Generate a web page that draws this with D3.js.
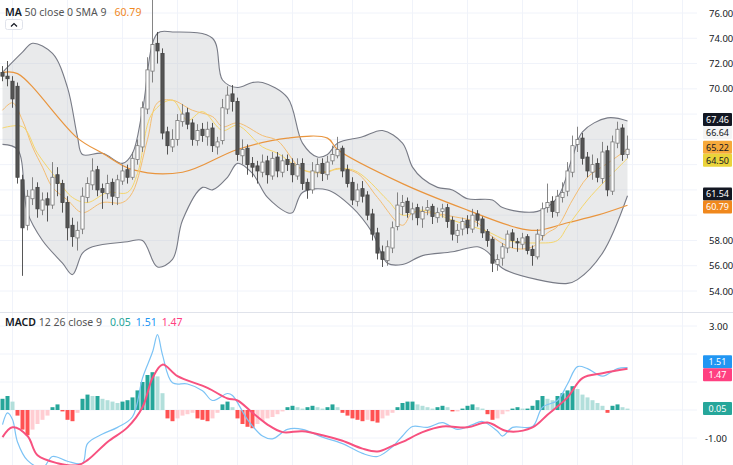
<!DOCTYPE html>
<html><head><meta charset="utf-8">
<script src="https://cdn.jsdelivr.net/npm/d3@7/dist/d3.min.js"></script>
<style>body{margin:0;background:#fff;font-family:"Noto Sans",Roboto,sans-serif}</style>
</head><body><svg id="c" width="733" height="465"></svg>
<script>
const opens=[71.3,71.0,70.6,70.2,62.8,59.2,61.3,62.2,60.4,61.3,60.8,63.2,62.5,61.0,59.2,58.2,58.9,61.4,62.4,63.6,62.1,61.7,62.6,61.4,62.7,63.6,63.0,64.4,65.4,68.4,71.4,73.6,72.8,66.6,65.4,66.0,67.4,68.1,67.3,65.9,66.8,66.2,66.9,65.4,65.9,68.4,69.6,69.0,64.7,65.3,64.1,63.9,63.4,64.3,63.1,64.6,63.4,64.4,64.1,63.1,64.1,62.6,62.0,63.4,64.1,63.2,64.3,64.7,65.3,63.6,62.6,61.1,62.1,61.6,60.1,58.6,57.1,56.4,57.4,59.1,60.7,61.1,60.1,60.6,59.7,60.4,60.7,59.8,60.3,60.6,59.6,58.4,58.9,59.6,58.9,60.1,59.7,58.7,58.1,56.1,56.6,57.4,58.6,57.9,57.7,58.3,57.3,56.7,58.4,60.6,61.1,60.2,61.4,61.9,63.4,65.6,66.1,64.6,63.4,64.1,62.9,65.1,61.9,65.7,66.9,64.8];
const closes=[71.0,70.8,69.2,63.0,59.0,61.5,62.0,60.5,61.2,60.8,63.0,62.5,61.0,59.0,58.3,58.8,61.5,62.5,63.5,62.0,61.8,62.5,61.5,62.8,63.5,63.0,64.5,65.5,68.5,71.5,73.5,73.0,66.5,65.5,66.0,67.5,68.0,67.2,66.0,66.7,66.3,66.8,65.5,65.8,68.5,69.5,69.0,64.8,65.2,64.0,63.8,63.5,64.2,63.2,64.5,63.5,64.3,64.0,63.2,64.0,62.5,62.0,63.5,64.0,63.3,64.2,64.8,65.2,63.5,62.5,61.2,62.0,61.5,60.0,58.5,57.0,56.5,57.5,59.0,60.8,61.0,60.2,60.5,59.8,60.3,60.6,59.9,60.2,60.5,59.5,58.5,58.8,59.5,59.0,60.0,59.6,58.6,58.0,56.2,56.5,57.5,58.5,58.0,57.8,58.2,57.2,56.8,58.5,60.5,61.0,60.3,61.5,61.8,63.5,65.5,66.0,64.5,63.5,64.0,63.0,65.0,62.0,65.8,66.8,64.8,65.22];
const highs=[71.8,72.2,71.0,70.5,63.2,62.0,63.0,62.6,61.8,61.8,64.2,63.8,62.8,61.5,59.8,59.5,62.2,63.0,64.5,63.9,62.5,63.2,62.9,63.2,64.0,64.0,65.0,66.0,69.0,72.5,77.5,74.5,73.2,67.0,66.8,68.0,68.8,68.5,67.6,67.2,67.3,67.4,67.3,66.2,69.2,70.2,70.3,69.3,66.0,65.6,64.6,64.3,64.8,64.7,65.0,65.0,64.8,64.8,64.5,64.5,64.5,62.9,64.2,64.5,64.5,64.7,65.5,66.2,65.5,64.0,63.0,62.5,62.7,61.9,60.5,59.0,57.6,58.0,59.5,61.8,61.6,61.4,61.0,60.9,60.7,61.2,60.9,60.6,60.9,60.9,59.9,59.3,59.8,60.0,60.5,60.4,59.9,58.9,58.3,56.9,57.8,58.8,58.9,58.2,58.6,58.5,57.6,58.9,61.0,62.5,61.5,62.0,62.6,64.2,66.3,67.0,66.5,65.0,64.8,64.5,65.8,65.5,66.3,67.4,67.2,66.3];
const lows=[70.6,70.2,68.5,62.5,55.2,58.8,60.8,59.8,60.0,59.5,60.5,61.5,60.2,58.0,57.5,57.2,58.5,61.0,62.0,61.5,60.5,61.3,60.8,60.8,62.4,62.5,62.8,64.0,65.0,68.0,70.5,72.0,66.0,64.8,65.0,65.5,67.0,66.8,65.5,65.5,65.8,65.5,65.0,64.8,65.6,68.0,68.2,64.3,64.0,63.2,63.0,62.5,63.0,62.5,62.8,63.0,63.0,63.5,62.6,62.8,62.0,61.3,61.7,63.0,62.7,62.8,64.0,64.5,63.0,62.2,60.8,60.7,61.0,59.6,58.0,56.5,55.9,56.0,57.0,58.8,60.0,59.8,59.6,59.2,59.0,60.0,59.3,59.4,59.8,59.0,58.0,57.8,58.4,58.5,58.6,59.1,58.2,57.5,55.5,55.6,56.0,57.0,57.4,57.1,57.3,56.9,56.0,56.5,58.0,60.2,59.8,59.9,61.0,61.5,63.0,65.0,64.0,63.0,62.8,62.6,62.5,61.5,61.6,65.3,64.3,64.5];
const bbUpper=[[0,71.3],[4,72.9],[6,73.6],[10,72.8],[13,70.1],[15,66.2],[16,64.8],[20,64.9],[24,64.1],[26,64.9],[28,68.3],[31,74.4],[34,74.5],[42,74.0],[44,70.7],[47,70.1],[50,70.5],[52,70.5],[57,69.3],[60,65.7],[63,64.6],[65,64.8],[67,65.7],[72,66.2],[76,66.7],[80,65.7],[82,63.8],[84,62.9],[87,62.2],[90,62.0],[93,61.3],[98,61.2],[100,60.6],[107,60.3],[111,61.4],[114,64.6],[116,66.6],[121,67.7],[125,67.46]];
const bbLower=[[0,65.6],[3,65.2],[5,60.2],[8,58.0],[12,56.2],[14,55.3],[16,57.0],[18,57.5],[25,57.9],[28,58.0],[31,55.9],[34,56.5],[36,59.6],[40,62.2],[42,62.0],[45,63.0],[47,64.1],[50,63.3],[53,61.4],[57,60.2],[58,60.2],[60,61.8],[65,62.0],[70,60.6],[74,58.6],[77,56.2],[80,56.1],[84,56.8],[90,57.1],[95,57.5],[97,57.1],[100,55.8],[107,54.9],[113,54.6],[115,54.9],[120,57.0],[125,61.54]];
const ma50=[[0,71.3],[3,71.2],[15,66.1],[20,64.9],[26,63.6],[36,63.4],[47,65.2],[57,66.1],[65,66.1],[67,65.2],[80,62.5],[93,60.4],[103,59.0],[107,58.8],[113,59.4],[119,60.0],[125,60.79]];
const basis=[[0,68.3],[2,68.9],[4,67.5],[6,65.4],[8,63.8],[10,62.2],[13,61.2],[16,60.2],[20,61.0],[24,61.0],[26,61.8],[29,66.0],[31,68.9],[34,69.1],[38,68.3],[42,67.8],[44,67.0],[47,67.3],[52,66.3],[55,65.9],[60,63.6],[65,63.4],[67,63.7],[71,63.3],[75,61.4],[80,59.2],[82,60.2],[85,60.2],[90,59.9],[95,59.4],[97,58.6],[102,57.4],[106,57.5],[109,58.6],[111,59.1],[114,61.2],[117,63.0],[121,64.1],[125,65.22]];
const sma9=[[0,66.9],[4,67.0],[7,64.9],[11,62.8],[14,61.4],[17,61.0],[21,61.8],[25,61.8],[27,63.3],[30,68.1],[34,69.1],[37,67.5],[40,68.2],[44,66.7],[47,67.1],[52,65.4],[55,64.9],[60,63.6],[63,63.4],[70,63.6],[77,61.2],[80,60.0],[84,60.4],[90,59.6],[97,58.7],[101,58.0],[107,57.8],[111,58.0],[113,59.1],[117,61.2],[120,62.5],[125,64.5]];
const macdLine=[[0,-0.52],[1,-0.1],[2,-0.34],[3,-1.14],[5,-1.8],[8,-2.07],[10,-1.66],[13,-1.83],[16,-1.9],[17,-1.2],[20,-0.86],[23,-0.62],[26,-0.24],[28,1.14],[30,2.07],[31,2.69],[32,1.97],[34,0.97],[37,0.93],[40,0.69],[42,0.34],[45,0.59],[46,0.52],[49,-0.34],[52,-0.93],[54,-1.03],[57,-0.69],[60,-0.69],[64,-0.97],[68,-1.2],[72,-1.55],[75,-1.66],[78,-1.31],[80,-0.93],[82,-0.59],[85,-0.62],[88,-0.45],[91,-0.69],[94,-0.52],[96,-0.41],[99,-0.76],[100,-0.93],[102,-0.62],[106,-0.59],[108,0.1],[111,0.34],[113,0.93],[115,1.55],[117,1.48],[120,1.21],[123,1.48],[125,1.51]];
const signalLine=[[0,-0.97],[2,-0.62],[5,-0.93],[7,-1.62],[11,-1.9],[15,-1.97],[17,-1.79],[21,-1.14],[25,-0.62],[28,0.1],[30,1.14],[32,1.62],[35,1.21],[41,0.79],[45,0.41],[47,0.34],[50,-0.1],[53,-0.52],[56,-0.79],[60,-0.76],[64,-0.9],[68,-1.1],[72,-1.38],[75,-1.48],[78,-1.28],[80,-1.14],[84,-0.79],[88,-0.59],[93,-0.62],[97,-0.45],[101,-0.76],[106,-0.62],[109,-0.17],[113,0.45],[116,1.14],[120,1.31],[125,1.47]];
const hist=[0.4,0.5,0.3,-0.2,-0.7,-0.9,-0.7,-0.5,-0.35,-0.2,0.1,0.2,-0.05,-0.35,-0.4,-0.1,0.4,0.55,0.5,0.5,0.4,0.35,0.3,0.25,0.3,0.35,0.45,0.7,1.0,1.25,1.35,1.2,0.6,-0.3,-0.4,-0.3,-0.2,-0.15,-0.1,-0.3,-0.35,-0.4,-0.3,-0.1,0.2,0.3,0.1,-0.3,-0.5,-0.6,-0.65,-0.5,-0.4,-0.3,-0.25,-0.15,-0.05,0.1,0.15,0.1,0.05,0.1,0.15,0.1,0.05,0.1,0.2,0.1,-0.1,-0.2,-0.3,-0.35,-0.4,-0.35,-0.4,-0.45,-0.3,-0.2,-0.1,0.1,0.25,0.3,0.3,0.2,0.15,0.1,0.05,0.1,0.15,0.1,-0.05,-0.05,0.05,0.15,0.2,0.1,0.05,-0.15,-0.35,-0.3,-0.15,-0.05,0.05,0.1,0.05,0.05,0.15,0.35,0.5,0.4,0.35,0.5,0.6,0.7,0.85,0.75,0.55,0.45,0.35,0.25,0.15,-0.1,0.15,0.2,0.1,0.05];
const priceTicks=[54,56,58,60,62,64,66,68,70,72,74,76];
const macdTicks=[-1,1,2,3];
const timeGrid=[2,13,24,35,47,58,70,82,93,104,115,126,136];
const priceBadges=[[67.46,"#131722","#fff"],[66.64,"#f4f4f4","#131722"],[65.22,"#f6a93b","#131722"],[64.50,"#ead33a","#131722"],[61.54,"#131722","#fff"],[60.79,"#f0881d","#fff"]];
const macdBadges=[[1.51,"#2196f3"],[1.47,"#ff4081"],[0.05,"#26a69a"]];

const svg=d3.select("#c");
const x=d3.scaleLinear().domain([0,1]).range([2.5,7.5]);
const y=d3.scaleLinear().domain([54,76]).range([291,13]);
const ym=d3.scaleLinear().domain([-1,3]).range([438,326]);
const W=697;
const g=svg.append("g").attr("stroke","#f0f3fa");
timeGrid.forEach(t=>g.append("line").attr("x1",x(t)).attr("x2",x(t)).attr("y1",0).attr("y2",465));
priceTicks.forEach(t=>g.append("line").attr("x1",0).attr("x2",W).attr("y1",y(t)).attr("y2",y(t)));
[-1,0,1,2,3].forEach(t=>g.append("line").attr("x1",0).attr("x2",W).attr("y1",ym(t)).attr("y2",ym(t)));
svg.append("line").attr("x1",0).attr("x2",733).attr("y1",312.5).attr("y2",312.5).attr("stroke","#e0e3eb");
svg.append("clipPath").attr("id","cp").append("rect").attr("x",0).attr("y",0).attr("width",W).attr("height",311);
svg.append("clipPath").attr("id","cm").append("rect").attr("x",0).attr("y",313).attr("width",W).attr("height",152);
const pp=svg.append("g").attr("clip-path","url(#cp)");
const curve=d3.curveCatmullRom;
const up=d3.line().curve(curve).x(d=>x(d[0])).y(d=>y(d[1]));
const upPath=up(bbUpper), loPath=up(bbLower.slice().reverse());
pp.append("path").attr("d",upPath+"L"+loPath.slice(1)+"Z").attr("fill","#bfc3c7").attr("fill-opacity",0.35);
pp.append("path").attr("d",upPath).attr("fill","none").attr("stroke","#787b86").attr("stroke-width",1.1);
pp.append("path").attr("d",up(bbLower)).attr("fill","none").attr("stroke","#787b86").attr("stroke-width",1.1);
pp.append("path").attr("d",up(ma50)).attr("fill","none").attr("stroke","#e9953e").attr("stroke-width",1.2);
pp.append("path").attr("d",up(basis)).attr("fill","none").attr("stroke","#f4bd72").attr("stroke-width",1);
pp.append("path").attr("d",up(sma9)).attr("fill","none").attr("stroke","#f5d66c").attr("stroke-width",1);
closes.forEach((c,i)=>{
  const o=opens[i],isUp=c>=o;
  pp.append("line").attr("x1",x(i)).attr("x2",x(i)).attr("y1",y(highs[i])).attr("y2",y(lows[i])).attr("stroke",isUp?"#777":"#444").attr("stroke-width",0.9);
  const top=y(Math.max(o,c)),bot=y(Math.min(o,c));
  pp.append("rect").attr("x",x(i)-1.6).attr("width",3.2).attr("y",top).attr("height",Math.max(1,bot-top))
    .attr("fill",isUp?"#fff":"#555").attr("stroke",isUp?"#777":"#444").attr("stroke-width",0.8);
});
const mp=svg.append("g").attr("clip-path","url(#cm)");
hist.forEach((v,i)=>{
  const prev=i>0?hist[i-1]:v;
  let col=v>=0?(v>=prev?"#26a69a":"#b2dfdb"):(v<prev?"#ff5252":"#ffcdd2");
  mp.append("rect").attr("x",x(i)-2).attr("width",4).attr("y",Math.min(ym(0),ym(v))).attr("height",Math.abs(ym(v)-ym(0))).attr("fill",col);
});
const ml=d3.line().curve(curve).x(d=>x(d[0])).y(d=>ym(d[1]));
mp.append("path").attr("d",ml(macdLine)).attr("fill","none").attr("stroke","#7cc3f5").attr("stroke-width",1.2);
mp.append("path").attr("d",ml(signalLine)).attr("fill","none").attr("stroke","#f7517f").attr("stroke-width",2);
const ax=svg.append("g").attr("font-size",9.5).attr("fill","#131722");
// place badges, pushing apart to avoid overlap
function layout(list,scale){
  const pos=list.map(b=>({b,yy:scale(b[0])})).sort((a,b)=>a.yy-b.yy);
  for(let k=1;k<pos.length;k++){ if(pos[k].yy-pos[k-1].yy<13){const m=(pos[k].yy+pos[k-1].yy)/2; pos[k-1].yy=Math.min(pos[k-1].yy,m-6.5); pos[k].yy=pos[k-1].yy+13;} }
  return pos;
}
const bPrice=layout(priceBadges,y), bMacd=layout(macdBadges,ym);
const hidden=[...bPrice.map(p=>p.yy),...bMacd.map(p=>p.yy)];
function near(yy){return hidden.some(h=>Math.abs(h-yy)<10);}
priceTicks.forEach(t=>{ if(!near(y(t))) ax.append("text").attr("x",709).attr("y",y(t)+3.5).text(t.toFixed(2));});
macdTicks.forEach(t=>{ if(!near(ym(t))) ax.append("text").attr("x",t<0?705:709).attr("y",ym(t)+3.5).text(t.toFixed(2));});
function badge(yy,v,bg,fg){
  ax.append("rect").attr("x",703).attr("y",yy-6.5).attr("width",29).attr("height",13).attr("rx",1).attr("fill",bg);
  ax.append("text").attr("x",717.5).attr("text-anchor","middle").attr("font-size",9).attr("y",yy+3.3).attr("fill",fg).text(v.toFixed(2));
}
bPrice.forEach(p=>badge(p.yy,p.b[0],p.b[1],p.b[2]));
bMacd.forEach(p=>badge(p.yy,p.b[0],p.b[1],"#fff"));
const lg=svg.append("text").attr("x",5).attr("y",16).attr("font-size",10.5).attr("fill","#555");
lg.append("tspan").attr("fill","#131722").attr("font-weight",600).text("MA");
lg.append("tspan").text(" 50 close 0 SMA 9");
lg.append("tspan").attr("dx",8).attr("fill","#f0881d").text("60.79");
svg.append("rect").attr("x",5.5).attr("y",19.5).attr("width",17).attr("height",10).attr("rx",2).attr("fill","#fff").attr("stroke","#e0e3eb");
svg.append("path").attr("d","M11,26.5L14,23.5L17,26.5").attr("fill","none").attr("stroke","#131722").attr("stroke-width",1.2);
const lm=svg.append("text").attr("x",5).attr("y",326).attr("font-size",10.5).attr("fill","#555");
lm.append("tspan").attr("fill","#131722").attr("font-weight",600).text("MACD");
lm.append("tspan").text(" 12 26 close 9");
lm.append("tspan").attr("dx",8).attr("fill","#26a69a").text("0.05");
lm.append("tspan").attr("dx",5).attr("fill","#2196f3").text("1.51");
lm.append("tspan").attr("dx",5).attr("fill","#ff4081").text("1.47");
</script></body></html>
